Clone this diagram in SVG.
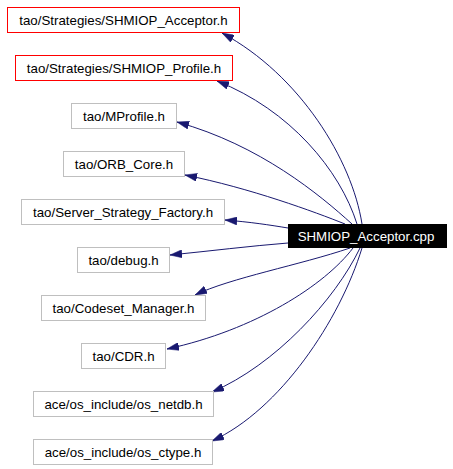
<svg xmlns="http://www.w3.org/2000/svg" width="453" height="469" viewBox="0 0 453 469">
<style>
text{font-family:"Liberation Sans",Arial,sans-serif;font-size:13.3px;text-anchor:middle;fill:#000}
.r{fill:#fff;stroke:#ff0000;stroke-width:1}
.g{fill:#fff;stroke:#bfbfbf;stroke-width:1}
.e{fill:none;stroke:#191970;stroke-width:1;marker-end:url(#ah)}
</style>
<defs>
<marker id="ah" markerUnits="userSpaceOnUse" markerWidth="12" markerHeight="8" refX="12" refY="4" orient="auto">
<path d="M0,0 L12,4 L0,8 z" fill="#191970" stroke="#191970" stroke-width="0.5"/>
</marker>
</defs>
<rect width="453" height="469" fill="#fff"/>
<g id="edges">
<path class="e" d="M362,224 C352,160 300,75 222,33"/>
<path class="e" d="M357,224 C340,170 290,110 217,81"/>
<path class="e" d="M352,224 C320,195 260,145 177,122"/>
<path class="e" d="M345,224 C315,212 250,188 185,175"/>
<path class="e" d="M288,228 C270,225 250,222 225,220"/>
<path class="e" d="M288,243 C250,246 210,251 170,255"/>
<path class="e" d="M350,248 C300,265 230,278 195,295"/>
<path class="e" d="M353,248 C325,285 255,330 167,349"/>
<path class="e" d="M360,248 C335,300 275,365 212,392"/>
<path class="e" d="M362,248 C340,320 280,410 212,441"/>
</g>
<g id="main"><rect x="288" y="224" width="159" height="24" fill="#000"/><text x="366" y="240.5" fill="#fff" style="fill:#fff">SHMIOP_Acceptor.cpp</text></g>
<g id="n1"><rect class="r" x="7.5" y="7.5" width="232" height="25"/><text x="123.5" y="25">tao/Strategies/SHMIOP_Acceptor.h</text></g>
<g id="n2"><rect class="r" x="15.5" y="55.5" width="217" height="25"/><text x="124" y="73">tao/Strategies/SHMIOP_Profile.h</text></g>
<g id="n3"><rect class="g" x="71.5" y="103.5" width="105" height="25"/><text x="124" y="121">tao/MProfile.h</text></g>
<g id="n4"><rect class="g" x="63.5" y="151.5" width="121" height="25"/><text x="124" y="169">tao/ORB_Core.h</text></g>
<g id="n5"><rect class="g" x="21.5" y="199.5" width="203" height="25"/><text x="123" y="217">tao/Server_Strategy_Factory.h</text></g>
<g id="n6"><rect class="g" x="77.5" y="247.5" width="92" height="25"/><text x="123.5" y="265">tao/debug.h</text></g>
<g id="n7"><rect class="g" x="41.5" y="295.5" width="164" height="25"/><text x="123.5" y="313">tao/Codeset_Manager.h</text></g>
<g id="n8"><rect class="g" x="81.5" y="343.5" width="84" height="25"/><text x="123.5" y="361">tao/CDR.h</text></g>
<g id="n9"><rect class="g" x="33.5" y="391.5" width="180" height="25"/><text x="123.5" y="409">ace/os_include/os_netdb.h</text></g>
<g id="n10"><rect class="g" x="33.5" y="439.5" width="179" height="25"/><text x="123" y="457">ace/os_include/os_ctype.h</text></g>
</svg>
